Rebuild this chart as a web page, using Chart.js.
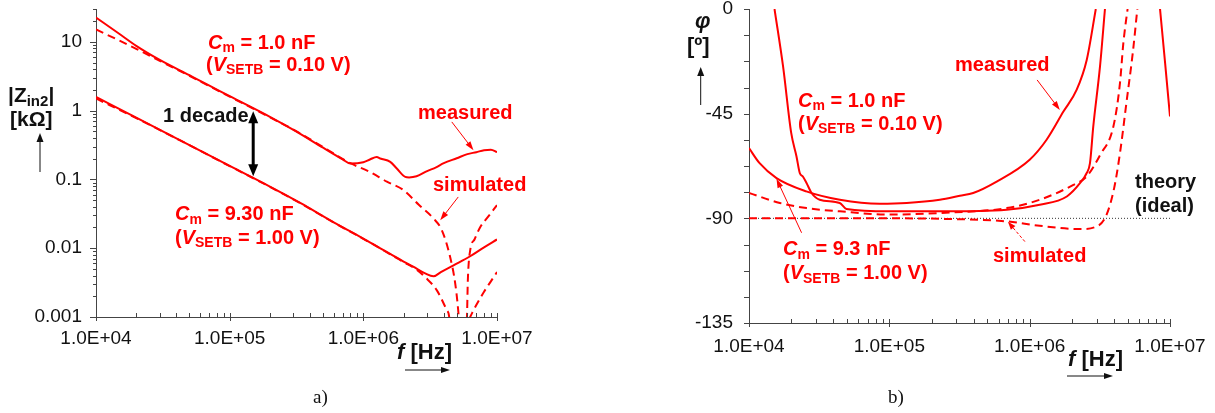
<!DOCTYPE html>
<html>
<head>
<meta charset="utf-8">
<script src="https://cdn.jsdelivr.net/npm/chart.js@4.4.1/dist/chart.umd.min.js"></script>
<style>
html, body { margin: 0; padding: 0; background: #fff; }
#wrap { position: relative; width: 1215px; height: 413px; overflow: hidden; }
canvas { position: absolute; top: 0; }
#cA { left: 0; }
#cB { left: 600px; }
</style>
</head>
<body>
<div id="wrap">
  <canvas id="cA" width="600" height="413"></canvas>
  <canvas id="cB" width="615" height="413"></canvas>
</div>
<script>
// ---- data ----
// a) |Zin2| [kOhm] vs f [Hz]
const fMeas1n = [1e4, 1.5e4, 2e4, 3e4, 5e4, 7e4, 1e5, 2e5, 3e5, 5e5, 7e5, 8e5, 1e6, 1.12e6, 1.26e6, 1.34e6, 1.59e6, 1.78e6, 2.06e6, 2.2e6, 2.5e6, 3e6, 3.5e6, 4e6, 5e6, 6e6, 7e6, 8e6, 9e6, 1e7];
const zMeas1n = [22.6, 13.0, 8.75, 5.46, 3.27, 2.33, 1.62, 0.811, 0.524, 0.289, 0.196, 0.170, 0.178, 0.195, 0.212, 0.201, 0.180, 0.144, 0.109, 0.107, 0.111, 0.132, 0.150, 0.172, 0.203, 0.233, 0.249, 0.266, 0.271, 0.249];
const fSim1n = [1e4, 1.5e4, 2e4, 3e4, 5e4, 1e5, 2e5, 3e5, 5e5, 8e5, 1.12e6, 1.5e6, 2e6, 2.6e6, 3.35e6, 3.87e6, 4.46e6, 4.87e6, 5.15e6, 5.45e6, 5.96e6, 6.05e6, 6.3e6, 6.8e6, 7.5e6, 8.5e6, 1e7];
const zSim1n = [15.1, 10.4, 7.9, 5.3, 3.2, 1.6, 0.8, 0.53, 0.295, 0.172, 0.1285, 0.0927, 0.0697, 0.0427, 0.027, 0.0182, 0.00746, 0.00306, 0.00112, 0.0002, 0.001, 0.0034, 0.0093, 0.0135, 0.0204, 0.028, 0.0422];
const fMeas9n = [1e4, 2e4, 5e4, 1e5, 2e5, 3.37e5, 6e5, 1e6, 1.3e6, 1.6e6, 2e6, 2.36e6, 2.9e6, 3.35e6, 3.8e6, 4.73e6, 6.3e6, 8e6, 1e7];
const zMeas9n = [1.58, 0.792, 0.316, 0.157, 0.0785, 0.0455, 0.0238, 0.0138, 0.0103, 0.0082, 0.0064, 0.0054, 0.0043, 0.0039, 0.0045, 0.00565, 0.00764, 0.0103, 0.0134];
const fSim9n = [1e4, 2e4, 5e4, 1e5, 2e5, 3.37e5, 6e5, 1e6, 1.6e6, 2e6, 2.5e6, 2.9e6, 3.55e6, 4.22e6, 4.39e6, 4.6e6, 6.3e6, 6.6e6, 7e6, 8e6, 9e6, 1e7];
const zSim9n = [1.5, 0.78, 0.314, 0.156, 0.078, 0.0452, 0.0236, 0.0137, 0.0081, 0.0063, 0.0049, 0.0038, 0.00244, 0.00125, 0.001, 0.0002, 0.001, 0.0012, 0.00149, 0.00233, 0.0033, 0.0045];

// b) phase [deg] vs f [Hz]
const fPhMeas9n = [1e4, 1.19e4, 1.57e4, 2.56e4, 4.44e4, 8.56e4, 1.33e5, 2.29e5, 3.18e5, 3.96e5, 5.82e5, 1.0e6, 1.32e6, 1.74e6, 2.16e6, 2.55e6, 2.96e6];
const phMeas9n = [-59.8, -66.3, -72.7, -78.4, -82.0, -83.7, -83.4, -82.0, -80.3, -79.1, -74.2, -64.8, -56.2, -44.1, -34.8, -21.9, 0];
const fPhMeas1n = [1.52e4, 1.75e4, 2.0e4, 2.18e4, 2.3e4, 2.42e4, 2.57e4, 2.79e4, 3.19e4, 4.43e4, 4.95e4, 1e5, 2.29e5, 6.86e5, 1.18e6, 1.84e6, 2.29e6, 2.55e6, 2.69e6, 2.84e6, 3.17e6, 3.44e6];
const phMeas1n = [0, -24.8, -53.4, -63.4, -70.5, -72.0, -74.8, -79.1, -82.0, -83.4, -86.0, -87.0, -87.0, -86.3, -84.2, -80.6, -74.8, -70.5, -66.3, -50.5, -24.8, 0];
const fPhMeasHi = [8.49e6, 9.23e6, 1e7];
const phMeasHi = [0, -23.3, -46.2];
const fPhSimA = [1e4, 1.66e4, 2.57e4, 4.44e4, 1e5, 2.29e5, 6.86e5, 1.18e6, 2.05e6, 2.55e6, 3.18e6, 3.95e6, 4.4e6, 4.65e6, 4.92e6, 4.99e6];
const phSimA = [-79.1, -83.4, -85.6, -87.0, -88.4, -87.7, -85.6, -82.0, -75.6, -72.0, -62.7, -50.5, -31.9, -14.7, -2.6, 0];
const fPhSimB = [1e4, 1e5, 2.29e5, 6.86e5, 1.18e6, 2.29e6, 3.0e6, 3.5e6, 4.0e6, 4.4e6, 4.9e6, 5.45e6, 5.85e6];
const phSimB = [-90, -90, -90.2, -91.3, -93.2, -94.6, -93.5, -89, -77, -62, -40, -18, 0];
const fTheory = [1e4, 1e7];
const phTheory = [-90, -90];

// ticks
const xMajor = [1e4, 1e5, 1e6, 1e7];
const xLabels = ['1.0E+04', '1.0E+05', '1.0E+06', '1.0E+07'];
const zMajor = [0.001, 0.01, 0.1, 1, 10];
const zLabels = ['0.001', '0.01', '0.1', '1', '10'];
const phMajor = [-135, -90, -45, 0];
const phLabels = ['-135', '-90', '-45', '0'];

const RED = '#ff0000';
const AXIS = '#444';
const INK = '#111';
const SANS = '"Liberation Sans", Arial, Helvetica, sans-serif';
const SERIF = '"Liberation Serif", "Times New Roman", serif';

function logTicks(lo, hi) {
  const t = [];
  for (let e = lo; e < hi; e++) for (let m = 1; m < 10; m++) t.push(m * Math.pow(10, e));
  t.push(Math.pow(10, hi));
  return t;
}
const xTickVals = logTicks(4, 7);
const zTickVals = logTicks(-3, 1).concat([20, 30]);
const phTickVals = [];
for (let v = -135; v <= 0; v += 11.25) phTickVals.push(v);

function labelFor(vals, labels, v) {
  const i = vals.findIndex(a => Math.abs(a - v) <= Math.abs(a) * 1e-6 + 1e-9);
  return i < 0 ? '' : labels[i];
}
const pts = (f, v) => f.map((x, i) => ({ x, y: v[i] }));

function drawRich(ctx, x, y, parts, st) {
  let cx = x;
  ctx.fillStyle = st.color || INK;
  ctx.textBaseline = 'alphabetic';
  ctx.textAlign = 'left';
  parts.forEach(([t, f = '']) => {
    const sub = f.includes('s');
    const size = sub ? Math.round(st.size * 0.7) : st.size;
    ctx.font = `${f.includes('i') ? 'italic ' : ''}${st.weight || 'bold'} ${size}px ${st.family || SANS}`;
    ctx.fillText(t, cx, y + (sub ? st.size * 0.18 : 0));
    cx += ctx.measureText(t).width;
  });
}

function drawArrow(ctx, x1, y1, x2, y2, s) {
  const ang = Math.atan2(y2 - y1, x2 - x1);
  const L = s.head || 8, W = s.hw || 3;
  ctx.strokeStyle = ctx.fillStyle = s.color || INK;
  ctx.lineWidth = s.width || 1;
  ctx.setLineDash(s.dash || []);
  const ex = x2 - Math.cos(ang) * L * 0.7, ey = y2 - Math.sin(ang) * L * 0.7;
  const sx = s.both ? x1 + Math.cos(ang) * L * 0.7 : x1, sy = s.both ? y1 + Math.sin(ang) * L * 0.7 : y1;
  ctx.beginPath(); ctx.moveTo(sx, sy); ctx.lineTo(ex, ey); ctx.stroke();
  ctx.setLineDash([]);
  const head = (hx, hy, a) => {
    ctx.beginPath();
    ctx.moveTo(hx, hy);
    ctx.lineTo(hx - Math.cos(a) * L - Math.sin(a) * W, hy - Math.sin(a) * L + Math.cos(a) * W);
    ctx.lineTo(hx - Math.cos(a) * L + Math.sin(a) * W, hy - Math.sin(a) * L - Math.cos(a) * W);
    ctx.closePath(); ctx.fill();
  };
  head(x2, y2, ang);
  if (s.both) head(x1, y1, ang + Math.PI);
}

// short tick marks: minor ones inside on x, outside on y
const tickMarks = {
  id: 'tickMarks',
  afterDraw(chart, args, o) {
    const { ctx } = chart, xs = chart.scales.x, ys = chart.scales.y;
    ctx.save();
    ctx.strokeStyle = AXIS; ctx.lineWidth = 1;
    ctx.beginPath();
    xs.ticks.forEach(t => {
      const p = Math.round(xs.getPixelForValue(t.value)) + 0.5;
      ctx.moveTo(p, xs.top - o.xIn);
      ctx.lineTo(p, xs.top + (t.label !== '' ? o.xOut : 0));
    });
    ys.ticks.forEach(t => {
      const p = Math.round(ys.getPixelForValue(t.value)) + 0.5;
      ctx.moveTo(ys.right, p);
      ctx.lineTo(ys.right - (t.label !== '' ? o.yMajor : o.yMinor), p);
    });
    ctx.stroke();
    ctx.restore();
  }
};

// labels, titles and arrows
const notes = {
  id: 'notes',
  afterDraw(chart, args, o) {
    const ctx = chart.ctx, xs = chart.scales.x, ys = chart.scales.y;
    const P = p => [xs.getPixelForValue(p[0]), ys.getPixelForValue(p[1])];
    const S = p => [p[0] - o.dx, p[1]];
    ctx.save();
    o.texts.forEach(t => drawRich(ctx, t.x - o.dx, t.y, t.parts, t));
    o.arrows.forEach(a => {
      const [x1, y1] = a.data ? P(a.from) : S(a.from);
      const [x2, y2] = a.data ? P(a.to) : S(a.to);
      drawArrow(ctx, x1, y1, x2, y2, a);
    });
    ctx.restore();
  }
};

const tickFont = { family: SANS, size: 19 };

function axisX(pad, h) {
  return {
    type: 'logarithmic', min: 1e4, max: 1e7, position: 'bottom',
    grid: { display: false, drawTicks: false },
    border: { display: true, color: AXIS, width: 1 },
    ticks: { autoSkip: false, maxRotation: 0, minRotation: 0, padding: pad, font: tickFont, color: INK,
      callback: v => labelFor(xMajor, xLabels, v) },
    afterBuildTicks: s => { s.ticks = xTickVals.map(v => ({ value: v })); },
    afterFit: s => { s.height = h; s.paddingLeft = 0; s.paddingRight = 0; }
  };
}

const line = (data, dashed, extra) => Object.assign({
  data, borderColor: RED, borderWidth: 2, borderDash: dashed ? [8, 5] : [],
  pointRadius: 0, fill: false, cubicInterpolationMode: 'monotone'
}, extra || {});

// ---- a) impedance magnitude ----
new Chart(document.getElementById('cA'), {
  type: 'line',
  data: {
    datasets: [
      line(pts(fMeas1n, zMeas1n), false),
      line(pts(fMeas9n, zMeas9n), false),
      line(pts(fSim1n, zSim1n), true),
      line(pts(fSim9n, zSim9n), true)
    ]
  },
  options: {
    responsive: false, animation: false, events: [],
    layout: { padding: { top: 9, right: 103, bottom: 0, left: 0 } },
    plugins: {
      legend: { display: false }, tooltip: { enabled: false },
      tickMarks: { xIn: 4, xOut: 4, yMajor: 6, yMinor: 3 },
      notes: {
        dx: 0,
        texts: [
          { x: 208, y: 48.5, size: 20, color: RED, parts: [['C', 'i'], ['m', 's'], [' = 1.0 nF']] },
          { x: 206, y: 70.5, size: 20, color: RED, parts: [['('], ['V', 'i'], ['SETB', 's'], [' = 0.10 V)']] },
          { x: 163, y: 122, size: 20, color: INK, parts: [['1 decade']] },
          { x: 418, y: 118.5, size: 20, color: RED, parts: [['measured']] },
          { x: 433, y: 191, size: 20, color: RED, parts: [['simulated']] },
          { x: 175, y: 220, size: 20, color: RED, parts: [['C', 'i'], ['m', 's'], [' = 9.30 nF']] },
          { x: 175, y: 243.5, size: 20, color: RED, parts: [['('], ['V', 'i'], ['SETB', 's'], [' = 1.00 V)']] },
          { x: 8, y: 102, size: 21, color: INK, parts: [['|Z'], ['in2', 's'], ['|']] },
          { x: 10, y: 126, size: 21, color: INK, parts: [['[kΩ]']] },
          { x: 397, y: 359, size: 22, color: INK, parts: [['f', 'i'], [' [Hz]']] },
          { x: 313, y: 403, size: 19, color: INK, weight: 'normal', family: SERIF, parts: [['a)']] }
        ],
        arrows: [
          { from: [40, 172], to: [40, 133], head: 9, hw: 3.5 },
          { from: [405, 370], to: [450, 370], head: 9, hw: 3 },
          { data: true, from: [1.5e5, 0.111], to: [1.5e5, 0.98], both: true, width: 3, head: 12, hw: 5, color: '#000' },
          { data: true, from: [4.59e6, 0.685], to: [6.67e6, 0.266], color: RED, head: 9, hw: 3 },
          { data: true, from: [5.13e6, 0.0556], to: [3.76e6, 0.0255], color: RED, head: 9, hw: 3 }
        ]
      }
    },
    scales: {
      x: axisX(10, 96),
      y: {
        type: 'logarithmic', min: 0.001, max: 30,
        grid: { display: false, drawTicks: false },
        border: { display: true, color: AXIS, width: 1 },
        ticks: { autoSkip: false, padding: 14, font: tickFont, color: INK,
          callback: v => labelFor(zMajor, zLabels, v) },
        afterBuildTicks: s => { s.ticks = zTickVals.map(v => ({ value: v })); },
        afterFit: s => { s.width = 96; s.paddingTop = 0; s.paddingBottom = 0; }
      }
    }
  },
  plugins: [tickMarks, notes]
});

// ---- b) phase ----
new Chart(document.getElementById('cB'), {
  type: 'line',
  data: {
    datasets: [
      line(pts(fPhMeas9n, phMeas9n), false),
      line(pts(fPhMeas1n, phMeas1n), false),
      line(pts(fPhMeasHi, phMeasHi), false),
      line(pts(fPhSimA, phSimA), true),
      line(pts(fPhSimB, phSimB), true),
      line(pts(fTheory, phTheory), false, { borderColor: '#333', borderWidth: 1, borderDash: [1, 2] })
    ]
  },
  options: {
    responsive: false, animation: false, events: [],
    layout: { padding: { top: 9, right: 45, bottom: 0, left: 0 } },
    plugins: {
      legend: { display: false }, tooltip: { enabled: false },
      tickMarks: { xIn: 4, xOut: 4, yMajor: 5, yMinor: 5 },
      notes: {
        dx: 600,
        texts: [
          { x: 695, y: 28, size: 22, color: INK, parts: [['φ', 'i']] },
          { x: 687, y: 53, size: 22, color: INK, parts: [['[º]']] },
          { x: 798, y: 106.5, size: 20, color: RED, parts: [['C', 'i'], ['m', 's'], [' = 1.0 nF']] },
          { x: 798, y: 129.5, size: 20, color: RED, parts: [['('], ['V', 'i'], ['SETB', 's'], [' = 0.10 V)']] },
          { x: 955, y: 71, size: 20, color: RED, parts: [['measured']] },
          { x: 783, y: 255, size: 20, color: RED, parts: [['C', 'i'], ['m', 's'], [' = 9.3 nF']] },
          { x: 783, y: 279, size: 20, color: RED, parts: [['('], ['V', 'i'], ['SETB', 's'], [' = 1.00 V)']] },
          { x: 993, y: 262, size: 20, color: RED, parts: [['simulated']] },
          { x: 1135, y: 188, size: 20, color: INK, parts: [['theory']] },
          { x: 1135, y: 212, size: 20, color: INK, parts: [['(ideal)']] },
          { x: 1068, y: 366, size: 22, color: INK, parts: [['f', 'i'], [' [Hz]']] },
          { x: 888, y: 403, size: 19, color: INK, weight: 'normal', family: SERIF, parts: [['b)']] }
        ],
        arrows: [
          { from: [700.7, 105], to: [700.7, 67], head: 9, hw: 3.5 },
          { from: [1067, 376], to: [1113, 376], head: 9, hw: 3 },
          { data: true, from: [1.13e6, -30.5], to: [1.64e6, -43.4], color: RED, head: 9, hw: 3 },
          { data: true, from: [2.37e4, -96.2], to: [1.57e4, -73.0], color: RED, head: 9, hw: 3 },
          { data: true, from: [9.25e5, -100], to: [7.0e5, -91.5], color: RED, head: 8, hw: 3, dash: [3, 2] }
        ]
      }
    },
    scales: {
      x: axisX(12, 90),
      y: {
        type: 'linear', min: -135, max: 0,
        grid: { display: false, drawTicks: false },
        border: { display: true, color: AXIS, width: 1 },
        ticks: { autoSkip: false, padding: 16, font: tickFont, color: INK,
          callback: v => labelFor(phMajor, phLabels, v) },
        afterBuildTicks: s => { s.ticks = phTickVals.map(v => ({ value: v })); },
        afterFit: s => { s.width = 149; s.paddingTop = 0; s.paddingBottom = 0; }
      }
    }
  },
  plugins: [tickMarks, notes]
});
</script>
</body>
</html>
